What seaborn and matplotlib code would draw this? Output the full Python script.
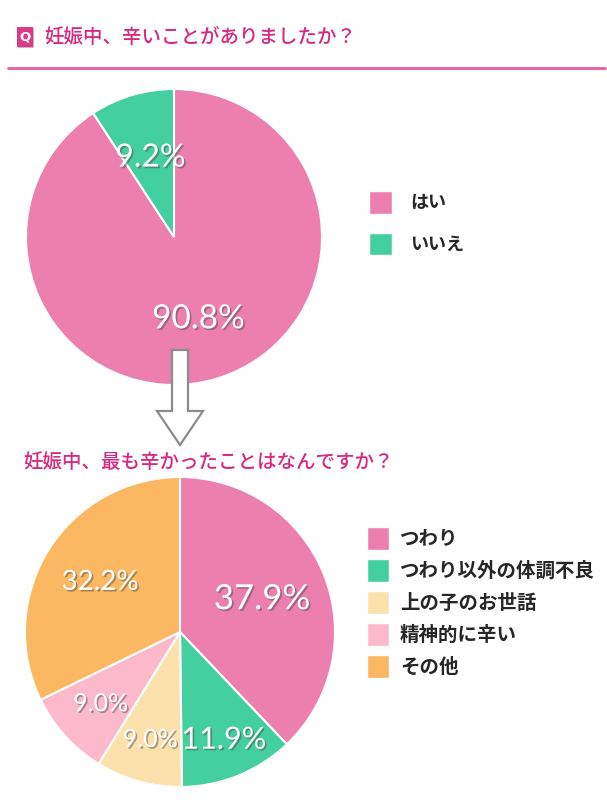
import numpy as np
import pandas as pd
import seaborn as sns
import matplotlib.pyplot as plt
import matplotlib.patheffects as pe
from matplotlib.patches import Patch, Polygon, FancyBboxPatch

# data
q1_title = "妊娠中、辛いことがありましたか？"
q1_labels = ["はい", "いいえ"]
q1_values = [90.8, 9.2]

q2_title = "妊娠中、最も辛かったことはなんですか？"
q2_labels = ["つわり", "つわり以外の体調不良", "上の子のお世話", "精神的に辛い", "その他"]
q2_values = [37.9, 11.9, 9.0, 9.0, 32.2]

sns.set_theme(style="white")
plt.rcParams['font.family'] = ['Noto Sans CJK JP', 'DejaVu Sans']

W, H = 607, 800
PINK_TXT = "#D8287F"
pal1 = sns.color_palette(["#EC7FAE", "#43CFA0"])
pal2 = sns.color_palette(["#EC7FAE", "#43CFA0", "#FCE1AD", "#FBB9CB", "#FBB761"])


def fx(x):
    return x / W


def fy(y):
    return 1 - y / H


def pie_axes(cx, cy, r):
    return fig.add_axes([fx(cx - r), fy(cy + r), 2 * r / W, 2 * r / H])


fig = plt.figure(figsize=(W / 100, H / 100), dpi=100)
shadow = [pe.withSimplePatchShadow(offset=(1.2, -1.2), shadow_rgbFace="#444444", alpha=0.45)]


def draw_pie(ax, values, colors, dists, sizes):
    wedges, _ = ax.pie(values, colors=colors, startangle=90, counterclock=False,
                       wedgeprops=dict(edgecolor="white", linewidth=1.5))
    for w, v, d, s in zip(wedges, values, dists, sizes):
        ang = np.deg2rad((w.theta1 + w.theta2) / 2)
        ax.text(d * np.cos(ang), d * np.sin(ang), f"{v:.1f}%", ha="center", va="center",
                color="white", fontsize=s, family=["Lato", "DejaVu Sans"], path_effects=shadow)
    ax.set_xlim(-1, 1)
    ax.set_ylim(-1, 1)
    ax.set_aspect("equal")
    ax.axis("off")
    return wedges


# header: "Q" badge, question text and the pink rule
fig.add_artist(FancyBboxPatch((fx(17), fy(47)), 16 / W, 20 / H, boxstyle="square,pad=0",
                              facecolor="#DB3A89", edgecolor="none", transform=fig.transFigure,
                              path_effects=[pe.withSimplePatchShadow(offset=(1, -1), alpha=0.3)]))
fig.text(fx(25), fy(37), "Q", color="white", fontsize=9.5, fontweight="bold", ha="center", va="center",
         family=["DejaVu Sans"])
fig.text(fx(44), fy(37), q1_title, color=PINK_TXT, fontsize=14, fontweight="medium",
         ha="left", va="center")
fig.add_artist(plt.Line2D([fx(8), fx(605)], [fy(68), fy(68)], color="#EB5C9D", lw=2,
                          transform=fig.transFigure))

# pie 1
ax1 = pie_axes(174, 237, 148)
draw_pie(ax1, q1_values, pal1, [0.58, 0.56], [24, 23])
ax1.legend(handles=[Patch(facecolor=c, label=l) for c, l in zip(pal1, q1_labels)],
           loc="upper left", bbox_to_anchor=(fx(369), fy(191)), bbox_transform=fig.transFigure,
           frameon=False, prop=dict(weight="bold", size=13),
           handlelength=1.3, handleheight=1.55, handletextpad=1.0, labelspacing=1.05,
           borderpad=0, borderaxespad=0)

# arrow between the two questions
arrow_px = [(172, 350), (188, 350), (188, 411), (203, 411), (180, 445), (157, 411), (172, 411)]
fig.add_artist(Polygon([(fx(x), fy(y)) for x, y in arrow_px], closed=True, facecolor="white",
                       edgecolor="#8A8C8E", lw=1.6, transform=fig.transFigure))

# second question
fig.text(fx(23), fy(462), q2_title, color=PINK_TXT, fontsize=14, fontweight="medium",
         ha="left", va="center")

ax2 = pie_axes(180, 632, 155)
draw_pie(ax2, q2_values, pal2, [0.57, 0.75, 0.72, 0.69, 0.61], [25, 22, 18, 18, 20])
ax2.legend(handles=[Patch(facecolor=c, label=l) for c, l in zip(pal2, q2_labels)],
           loc="upper left", bbox_to_anchor=(fx(367), fy(527)), bbox_transform=fig.transFigure,
           frameon=False, prop=dict(weight="bold", size=14),
           handlelength=1.15, handleheight=1.45, handletextpad=0.55, labelspacing=0.46,
           borderpad=0, borderaxespad=0)

fig.savefig("out.png", dpi=100)
